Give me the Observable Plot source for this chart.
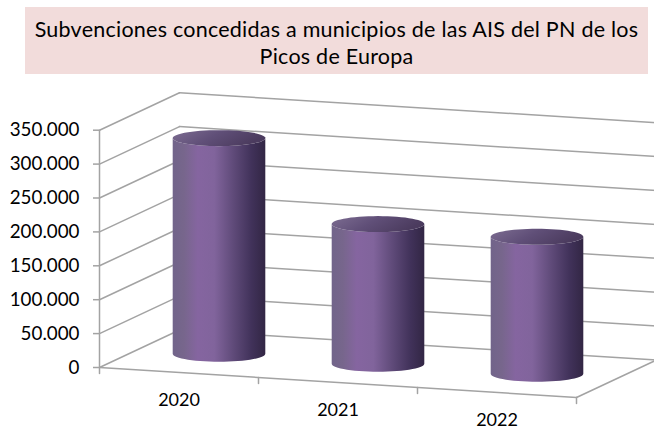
<!DOCTYPE html>
<html><head><meta charset="utf-8">
<script src="https://cdn.jsdelivr.net/npm/d3@7"></script>
<script src="https://cdn.jsdelivr.net/npm/@observablehq/plot@0.6"></script>
<style>
html,body{margin:0;padding:0;background:#fff;font-family:Lato,sans-serif;overflow:hidden}
#t{position:absolute;left:25px;top:7px;width:623px;height:67px;background:#f2dcdb;color:#000;text-align:center;font-size:21.5px;letter-spacing:.24px;line-height:27px;padding-top:9px;box-sizing:border-box;white-space:nowrap}
#c{position:absolute;left:0;top:74px}
</style></head><body>
<div id="t">Subvenciones concedidas a municipios de las AIS del PN de los<br>Picos de Europa</div>
<div id="c"></div>
<script>
const years = ["2020","2021","2022"];
const values = [318000,206000,202000];
const yTicks = [0,50000,100000,150000,200000,250000,300000,350000];
const xEdges = [0,1,2,3];

// oblique projection, in data units of the x (category) and y (value) scales
const pxU = 159, pxW = 33.9/50000;
const sx = (u,v) => u + 80*v/pxU;
const sy = (u,v,w) => w + (-10*u + 37.5*v)/pxW;
const P = (u,v,w) => ({x:sx(u,v), y:sy(u,v,w)});

const wallLeft = yTicks.map(w => [P(0,0,w),P(0,1,w)]);
const wallBack = yTicks.map(w => [P(0,1,w),P(3,1,w)]);
const floor = [[P(0,0,0),P(3,0,0)],[P(3,0,0),P(3,1,0)]];
const axisLine = [[P(0,0,0),P(0,0,350000)]];
const segs = [...wallLeft,...wallBack,...floor,...axisLine];
const xTicks = xEdges.map(u => [P(u,0,0),{x:sx(u,0),y:sy(u,0,0)-6/pxW}]);

const rx = 46.3/pxU, ry = 8/pxW;
const angles = d3.range(0,361,6).map(d=>d*Math.PI/180);
function cyl(i){
  const c = P(i+.5,.5,0), top = c.y+values[i];
  const front = angles.filter(a=>a<=Math.PI+1e-9);
  // body outline: lower half-ellipse at the base, then up to the top rim and over its front half
  const base = front.map(a=>({x:c.x+rx*Math.cos(a),y:c.y-ry*Math.sin(a)}));
  const rim = front.map(a=>({x:c.x-rx*Math.cos(a),y:top-ry*Math.sin(a)}));
  return {body:[...base,...rim], cap:angles.map(a=>({x:c.x+rx*Math.cos(a),y:top+ry*Math.sin(a)}))};
}
const cyls = years.map((_,i)=>cyl(i));

function defs(){
  const s = d3.create("svg:defs");
  const add=(id,stops,x2,y2)=>{
    const g=s.append("linearGradient").attr("id",id).attr("x1",0).attr("y1",0).attr("x2",x2).attr("y2",y2);
    stops.forEach(([o,c])=>g.append("stop").attr("offset",o).attr("stop-color",c));
  };
  add("side",[[0,"#71648a"],[.12,"#77668c"],[.27,"#8565a0"],[.45,"#81649c"],[.65,"#604b7a"],[.85,"#41325a"],[1,"#322644"]],1,0);
  add("cap",[[0,"#7d6d92"],[.5,"#604f78"],[1,"#4b3b5e"]],1,0.3);
  return s.node();
}

const plot = Plot.plot({
  width:654, height:355,
  marginLeft:99, marginRight:0, marginTop:0, marginBottom:0,
  style:{fontFamily:"Lato,sans-serif",background:"transparent",overflow:"visible"},
  x:{domain:[0,555/pxU],range:[99,654],axis:null},
  y:{domain:[0,350000],range:[293,293-350000*pxW],axis:null},
  marks:[
    defs,
    ...segs.map(s=>Plot.line(s,{x:"x",y:"y",stroke:"#a3a3a3",strokeWidth:1.5})),
    ...xTicks.map(s=>Plot.line(s,{x:"x",y:"y",stroke:"#a3a3a3",strokeWidth:1.5})),
    Plot.axisY({ticks:yTicks,tickFormat:d=>d3.format(",")(d).replace(/,/g,"."),anchor:"left",tickSize:6,tickPadding:14,fontSize:18.8,stroke:"#a3a3a3",fill:"#000",strokeWidth:1.5,label:null}),
    ...cyls.flatMap(c=>[
      Plot.line(c.body,{x:"x",y:"y",fill:"url(#side)",stroke:"none"}),
      Plot.line(c.cap,{x:"x",y:"y",fill:"url(#cap)",stroke:"none"})
    ]),
    Plot.text(years.map((t,i)=>({t,...P(i+.5,0,0)})),{x:"x",y:"y",text:"t",dy:27.5,fontSize:18,fill:"#000"})
  ]
});
document.getElementById("c").appendChild(plot);
</script>
</body></html>
